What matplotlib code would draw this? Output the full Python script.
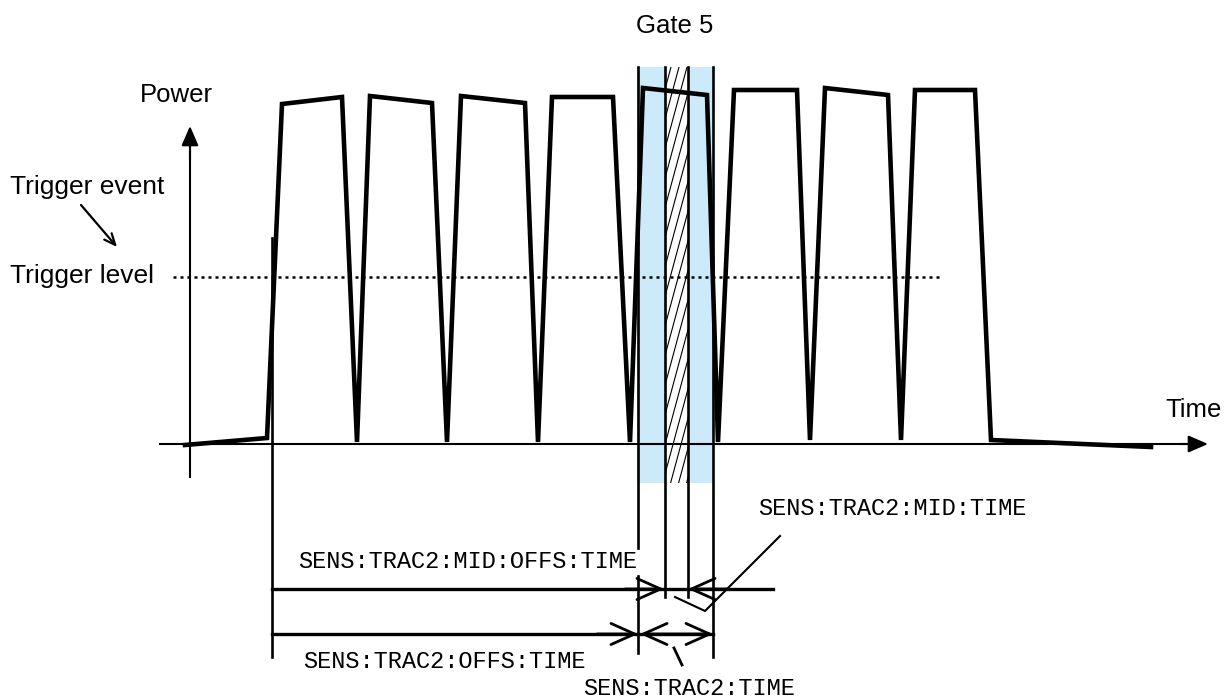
import numpy as np
import matplotlib
matplotlib.use('Agg')
import matplotlib.pyplot as plt
from matplotlib.patches import Rectangle, FancyArrowPatch

# drawing units: 1 unit = 1 pixel of the 1230x700 canvas, y grows downwards
# burst waveform vertices
wave_t = [185, 267, 282, 342, 357, 370, 432, 447, 461, 525, 538, 552, 613, 630,
          643, 707, 718, 734, 797, 810, 825, 888, 901, 915, 975, 991, 1151]
wave_p = [445, 438, 104, 97, 442, 96, 103, 442, 96, 103, 442, 97, 97, 442,
          88, 95, 442, 90, 90, 440, 88, 95, 440, 90, 90, 440, 447]

axis_y = 444
axis_x = 190
trigger_y = 277
trigger_x = 272

gate_left, gate_right = 637, 713
mid_left, mid_right = 665, 688
gate_top, gate_bottom = 67, 483

# vertical marker lines: x, top, bottom
markers = [(trigger_x, 238, 657), (gate_left + 1, gate_top, 548),
           (gate_left + 1, 576, 653),
           (mid_left, gate_top, 597), (mid_right, gate_top, 597),
           (gate_right, gate_top, 657)]

row_mid_offs = 589
row_offs = 634

sans = 'Liberation Sans'
mono = 'Liberation Mono'

fig = plt.figure(figsize=(12.3, 7), dpi=100)
ax = fig.add_axes([0, 0, 1, 1])
ax.set_xlim(0, 1230)
ax.set_ylim(700, 0)
ax.axis('off')

# gate 5 band and hatched centre strip
ax.add_patch(Rectangle((gate_left, gate_top), gate_right - gate_left,
                       gate_bottom - gate_top, color='#cdeafb', lw=0, zorder=1))
strip = Rectangle((mid_left, gate_top), mid_right - mid_left,
                  gate_bottom - gate_top, color='white', lw=0, zorder=1.1)
ax.add_patch(strip)
rise = (gate_bottom - gate_top) / 3.7
for x0 in np.arange(mid_left - rise - 10, mid_right + 10, 8):
    ln, = ax.plot([x0, x0 + rise], [gate_bottom, gate_top], color='k',
                  lw=0.8, zorder=1.2)
    ln.set_clip_path(strip)

for x, y0, y1 in markers:
    ax.plot([x, x], [y0, y1], color='k', lw=1.9, zorder=2)

# trigger level
ax.plot([173, 940], [trigger_y, trigger_y], color='k', lw=1.8,
        linestyle=(0, (1.2, 1.6)), zorder=2)

# axes with filled arrow heads
ax.plot([160, 1195], [axis_y, axis_y], color='k', lw=1.5, zorder=3)
ax.plot([axis_x, axis_x], [477, 135], color='k', lw=1.5, zorder=3)
head = '-|>,head_length=0.6,head_width=0.26'
ax.add_patch(FancyArrowPatch((1180, axis_y), (1208, axis_y), arrowstyle=head,
                             mutation_scale=20, color='k', lw=1.5,
                             shrinkA=0, shrinkB=0, zorder=3))
ax.add_patch(FancyArrowPatch((axis_x, 160), (axis_x, 126), arrowstyle=head,
                             mutation_scale=20, color='k', lw=1.5,
                             shrinkA=0, shrinkB=0, zorder=3))

# waveform
ax.plot(wave_t, wave_p, color='k', lw=3.3, solid_joinstyle='miter', zorder=4)

# dimension lines
ax.plot([trigger_x, 773], [row_mid_offs, row_mid_offs], color='k', lw=2.4, zorder=3)
ax.plot([trigger_x, gate_right], [row_offs, row_offs], color='k', lw=2.4, zorder=3)
open_head = '->,head_length=0.85,head_width=0.38'


def dim_arrow(p0, p1, style=open_head):
    ax.add_patch(FancyArrowPatch(p0, p1, arrowstyle=style, mutation_scale=20,
                                 color='k', lw=2.0, shrinkA=0, shrinkB=0, zorder=3))


dim_arrow((mid_left - 40, row_mid_offs), (mid_left - 1, row_mid_offs))
dim_arrow((mid_right + 40, row_mid_offs), (mid_right, row_mid_offs))
dim_arrow((gate_left - 40, row_offs), (gate_left + 1, row_offs))
dim_arrow((gate_left + 3, row_offs), (gate_right, row_offs),
          '<->,head_length=0.85,head_width=0.38')

# leader lines
ax.plot([780, 705, 675], [536, 611, 597], color='k', lw=1.5, zorder=3)
ax.plot([674, 682], [648, 665], color='k', lw=2, zorder=3)

# trigger event pointer
ax.annotate('', xy=(117, 247), xytext=(81, 205),
            arrowprops=dict(arrowstyle='->,head_length=0.8,head_width=0.35',
                            lw=1.6, color='k', shrinkA=0, shrinkB=0))

# labels
ax.text(675, 33, 'Gate 5', family=sans, fontsize=18.5, ha='center', va='baseline')
ax.text(176, 102, 'Power', family=sans, fontsize=18.5, ha='center', va='baseline')
ax.text(10, 194, 'Trigger event', family=sans, fontsize=19, va='baseline')
ax.text(10, 283, 'Trigger level', family=sans, fontsize=19, va='baseline')
ax.text(1165, 417, 'Time', family=sans, fontsize=18.5, va='baseline')

ax.text(298, 568, 'SENS:TRAC2:MID:OFFS:TIME', family=mono, fontsize=17,
        va='baseline', zorder=5)
ax.text(303, 668, 'SENS:TRAC2:OFFS:TIME', family=mono, fontsize=17, va='baseline')
ax.text(758, 515, 'SENS:TRAC2:MID:TIME', family=mono, fontsize=17, va='baseline')
ax.text(795, 695, 'SENS:TRAC2:TIME', family=mono, fontsize=17, ha='right',
        va='baseline')

fig.savefig('out.png', dpi=100, facecolor='white')
